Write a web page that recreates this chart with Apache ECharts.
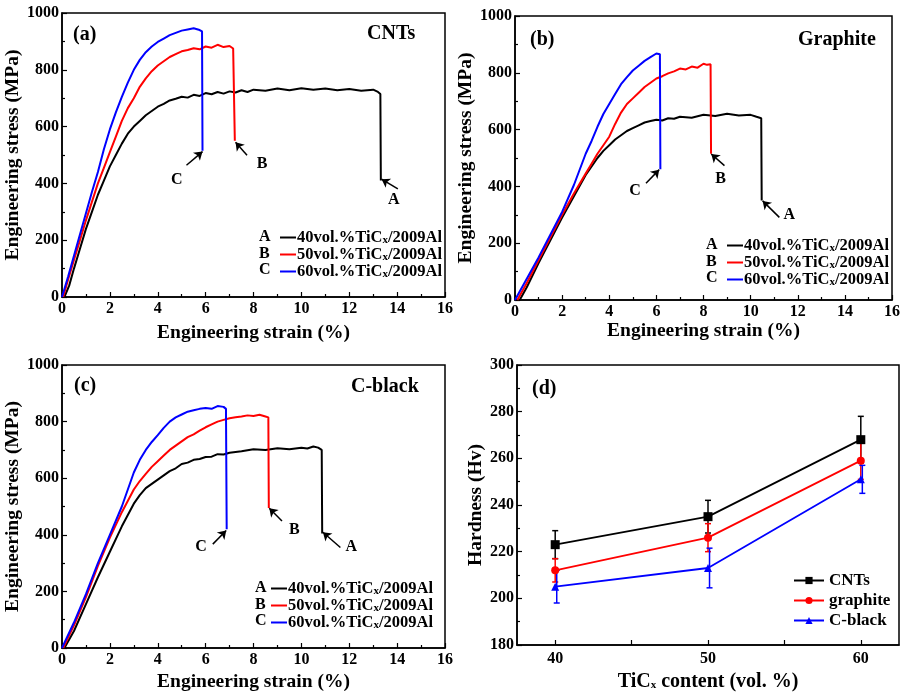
<!DOCTYPE html>
<html>
<head>
<meta charset="utf-8">
<script src="https://cdn.jsdelivr.net/npm/echarts@6/dist/echarts.min.js"></script>
<style>
  html, body { margin: 0; padding: 0; background: #fff; }
  #chart { width: 903px; height: 693px; }
</style>
</head>
<body>
<div id="chart"></div>
<script>
// stress-strain curves, [strain %, stress MPa]
const cntA = [[0.1,0],[0.3,40],[0.5,100],[0.75,170],[1,240],[1.25,300],[1.5,360],[1.75,410],[2,460],[2.25,500],[2.5,540],[2.75,575],[3,600],[3.25,620],[3.5,640],[3.75,655],[4,670],[4.25,680],[4.5,692],[4.75,698],[5,705],[5.25,702],[5.5,712],[5.75,708],[6,718],[6.25,714],[6.5,722],[6.75,716],[7,724],[7.25,720],[7.5,728],[7.75,722],[8,730],[8.5,726],[9,734],[9.5,728],[10,735],[10.5,730],[11,734],[11.5,728],[12,732],[12.5,726],[13,730],[13.2,722],[13.3,715],[13.32,410]];
const cntB = [[0.05,0],[0.25,60],[0.5,130],[0.75,200],[1,270],[1.25,335],[1.5,400],[1.75,455],[2,510],[2.25,565],[2.5,620],[2.75,665],[3,700],[3.25,740],[3.5,770],[3.75,795],[4,815],[4.25,830],[4.5,845],[4.75,855],[5,865],[5.25,870],[5.5,876],[5.75,872],[6,882],[6.25,878],[6.5,888],[6.75,880],[7,884],[7.15,875],[7.2,870],[7.22,550]];
const cntC = [[0,0],[0.25,70],[0.5,145],[0.75,220],[1,295],[1.25,370],[1.5,440],[1.75,520],[2,590],[2.25,650],[2.5,705],[2.75,755],[3,800],[3.25,835],[3.5,862],[3.75,882],[4,898],[4.25,910],[4.5,922],[4.75,930],[5,938],[5.25,942],[5.5,946],[5.75,940],[5.85,935],[5.87,515]];

const grA = [[0.2,0],[0.5,45],[1,130],[1.5,210],[2,290],[2.5,365],[3,440],[3.25,470],[3.5,500],[3.75,525],[4,545],[4.25,565],[4.5,580],[4.75,595],[5,605],[5.25,615],[5.5,625],[5.75,630],[6,635],[6.25,632],[6.5,640],[6.75,638],[7,645],[7.5,642],[8,652],[8.5,648],[9,656],[9.5,650],[10,652],[10.25,645],[10.45,640],[10.47,350]];
const grB = [[0.1,0],[0.5,60],[1,140],[1.5,220],[2,300],[2.5,375],[3,445],[3.25,480],[3.5,515],[3.75,545],[4,575],[4.25,620],[4.5,660],[4.75,690],[5,710],[5.25,730],[5.5,750],[5.75,765],[6,780],[6.25,788],[6.5,798],[6.75,805],[7,815],[7.25,812],[7.5,822],[7.75,818],[8,832],[8.15,828],[8.3,830],[8.32,515]];
const grC = [[0,0],[0.5,75],[1,150],[1.5,230],[2,310],[2.5,405],[3,515],[3.25,560],[3.5,610],[3.75,655],[4,690],[4.25,725],[4.5,760],[4.75,785],[5,808],[5.25,825],[5.5,842],[5.75,855],[6,868],[6.15,865],[6.17,460]];

const cbA = [[0.1,0],[0.5,60],[1,155],[1.5,250],[2,340],[2.5,430],[3,510],[3.25,540],[3.5,565],[3.75,580],[4,595],[4.25,610],[4.5,625],[4.75,635],[5,650],[5.25,655],[5.5,665],[5.75,668],[6,675],[6.25,676],[6.5,685],[6.75,684],[7,690],[7.5,695],[8,702],[8.5,700],[9,706],[9.5,702],[10,708],[10.25,705],[10.5,712],[10.7,708],[10.85,700],[10.87,405]];
const cbB = [[0.05,0],[0.5,80],[1,180],[1.5,290],[2,390],[2.5,480],[3,560],[3.25,590],[3.5,615],[3.75,640],[4,660],[4.25,680],[4.5,700],[4.75,715],[5,730],[5.25,745],[5.5,755],[5.75,768],[6,780],[6.25,790],[6.5,800],[6.75,806],[7,812],[7.25,815],[7.5,818],[7.75,822],[8,820],[8.25,824],[8.5,818],[8.62,815],[8.64,495]];
const cbC = [[0,0],[0.5,90],[1,190],[1.5,300],[2,400],[2.5,500],[2.75,560],[3,620],[3.25,665],[3.5,700],[3.75,728],[4,752],[4.25,778],[4.5,800],[4.75,815],[5,825],[5.25,835],[5.5,840],[5.75,845],[6,848],[6.25,845],[6.5,855],[6.75,852],[6.85,845],[6.88,420]];

// hardness vs TiCx content
const volContent = [40, 50, 60];
const hvCNTs = [223, 235, 268];
const errCNTs = [6, 7, 10];
const hvGraphite = [212, 226, 259];
const errGraphite = [5, 6, 8];
const hvCblack = [205, 213, 251];
const errCblack = [7, 8.5, 6];

const names = ['40vol.%TiCx/2009Al', '50vol.%TiCx/2009Al', '60vol.%TiCx/2009Al'];

// fracture arrows: [tail, tip, letter position]
const arrCNTs = [[[14.03,381],[13.35,415],[13.86,343]], [[7.73,499],[7.25,545],[8.36,470]], [[5.2,464],[5.87,512],[4.8,411]]];
const arrGraphite = [[[11.22,291],[10.51,349],[11.64,299]], [[8.89,473],[8.33,514],[8.72,426]], [[5.56,411],[6.12,459],[5.09,385]]];
const arrCblack = [[[11.63,355],[10.9,409],[12.08,356]], [[9.19,449],[8.66,494],[9.71,417]], [[6.3,367],[6.86,415],[5.81,356]]];

const FONT = '"Liberation Serif","Times New Roman",serif';
const colors = ['#000000', '#ff0000', '#0000ff'];
const letters = ['A', 'B', 'C'];

var myChart = echarts.init(document.getElementById('chart'));

function boldText(size) {
  return { color: '#000', fontFamily: FONT, fontWeight: 'bold', fontSize: size };
}

const subRich = { sub: { fontFamily: FONT, fontWeight: 'bold', fontSize: 11, lineHeight: 10, color: '#000', padding: [6, 0, 0, 0] } };

function strainX(gi, gap) {
  return {
    type: 'value', gridIndex: gi, min: 0, max: 16, interval: 2,
    name: 'Engineering strain (%)', nameLocation: 'middle', nameGap: gap,
    nameTextStyle: boldText(19.5),
    axisLine: { lineStyle: { color: '#000', width: 1.5 } },
    axisTick: { inside: true, length: 5, lineStyle: { color: '#000', width: 1.2 } },
    minorTick: { show: true, splitNumber: 2, length: 3, lineStyle: { color: '#000', width: 1.2 } },
    axisLabel: Object.assign(boldText(16), { margin: 4 }),
    splitLine: { show: false }
  };
}

function stressY(gi, gap) {
  return {
    type: 'value', gridIndex: gi, min: 0, max: 1000, interval: 200,
    name: 'Engineering stress (MPa)', nameLocation: 'middle', nameGap: gap,
    nameTextStyle: boldText(19.5),
    axisLine: { lineStyle: { color: '#000', width: 1.5 } },
    axisTick: { inside: true, length: 5, lineStyle: { color: '#000', width: 1.2 } },
    minorTick: { show: true, splitNumber: 2, length: 3, lineStyle: { color: '#000', width: 1.2 } },
    axisLabel: Object.assign(boldText(16), { margin: 3, formatter: v => String(v) }),
    splitLine: { show: false }
  };
}

function curve(i, gi, data, arr) {
  return {
    name: names[i], type: 'line', xAxisIndex: gi, yAxisIndex: gi,
    data: data, symbol: 'none', showSymbol: false,
    lineStyle: { color: colors[i], width: 2 }, itemStyle: { color: colors[i] },
    markLine: {
      silent: true, symbol: ['none', 'arrow'], symbolSize: 8, animation: false,
      lineStyle: { color: '#000', width: 1.5, type: 'solid' },
      label: { show: false },
      data: [[{ coord: arr[0] }, { coord: arr[1] }]]
    },
    markPoint: {
      silent: true, symbol: 'circle', symbolSize: 1, animation: false,
      itemStyle: { color: 'rgba(0,0,0,0)' },
      label: Object.assign(boldText(16), { show: true, position: 'inside', formatter: '{b}' }),
      data: [{ name: letters[i], coord: arr[2] }]
    }
  };
}

function errBars(gi, xs, ys, errs, color, shift) {
  return {
    type: 'custom', xAxisIndex: gi, yAxisIndex: gi, silent: true, z: 1,
    data: xs.map((x, k) => [x + shift, ys[k] - errs[k], ys[k] + errs[k]]),
    renderItem: function (params, api) {
      var lo = api.coord([api.value(0), api.value(1)]);
      var hi = api.coord([api.value(0), api.value(2)]);
      var w = 3;
      var st = { stroke: color, lineWidth: 1.5 };
      return {
        type: 'group', children: [
          { type: 'line', shape: { x1: lo[0], y1: lo[1], x2: hi[0], y2: hi[1] }, style: st },
          { type: 'line', shape: { x1: lo[0] - w, y1: lo[1], x2: lo[0] + w, y2: lo[1] }, style: st },
          { type: 'line', shape: { x1: hi[0] - w, y1: hi[1], x2: hi[0] + w, y2: hi[1] }, style: st }
        ]
      };
    }
  };
}

function hvLine(name, gi, ys, color, symbol, size) {
  return {
    name: name, type: 'line', xAxisIndex: gi, yAxisIndex: gi, z: 3,
    data: volContent.map((x, k) => [x, ys[k]]),
    symbol: symbol, symbolSize: size, showSymbol: true,
    lineStyle: { color: color, width: 1.8 }, itemStyle: { color: color }
  };
}

function stressLegend(left, top) {
  return {
    data: names.map(n => ({ name: n, icon: 'rect' })),
    orient: 'vertical', left: left, top: top, padding: 0,
    itemWidth: 16, itemHeight: 2, itemGap: 0, selectedMode: false,
    textStyle: Object.assign(boldText(16.5), {
      lineHeight: 16.5, padding: [0, 0, 0, -4], rich: subRich
    }),
    formatter: function (n) { return n.replace('TiCx', 'TiC{sub|x}'); }
  };
}

function legendLetters(x, y0, pitch) {
  return letters.map((l, k) => ({
    type: 'text', left: x, top: y0 + k * pitch,
    style: { text: l, fill: '#000', font: 'bold 16px ' + FONT }
  }));
}

function label(text, left, top) {
  return { text: text, left: left, top: top, padding: 0, textStyle: boldText(20) };
}

const frame = { show: true, borderColor: '#000', borderWidth: 1.5, backgroundColor: 'transparent' };

myChart.setOption({
  animation: false,
  backgroundColor: '#fff',
  title: [
    label('(a)', 73, 25), label('CNTs', 367, 24),
    label('(b)', 530, 30), label('Graphite', 798, 30),
    label('(c)', 74, 376), label('C-black', 351, 377),
    label('(d)', 532, 379)
  ],
  grid: [
    Object.assign({ left: 62, top: 13, width: 383, height: 284 }, frame),
    Object.assign({ left: 515, top: 16, width: 383, height: 284 }, frame),
    Object.assign({ left: 62, top: 365, width: 383, height: 283 }, frame),
    Object.assign({ left: 517, top: 365, width: 382, height: 284 }, frame)
  ],
  xAxis: [
    strainX(0, 26), strainX(1, 21), strainX(2, 24),
    {
      type: 'value', gridIndex: 3, min: 37.5, max: 62.5,
      name: 'TiC{sub|x} content (vol. %)', nameLocation: 'middle', nameGap: 27,
      nameTextStyle: Object.assign(boldText(20), { rich: subRich }),
      axisLine: { lineStyle: { color: '#000', width: 1.5 } },
      axisTick: { inside: true, length: 5, customValues: [40, 45, 50, 55, 60], lineStyle: { color: '#000', width: 1.2 } },
      axisLabel: Object.assign(boldText(16), { margin: 6, customValues: volContent }),
      splitLine: { show: false }
    }
  ],
  yAxis: [
    stressY(0, 35), stressY(1, 34), stressY(2, 35),
    {
      type: 'value', gridIndex: 3, min: 180, max: 300, interval: 20,
      name: 'Hardness (Hv)', nameLocation: 'middle', nameGap: 31,
      nameTextStyle: boldText(19.5),
      axisLine: { lineStyle: { color: '#000', width: 1.5 } },
      axisTick: { inside: true, length: 5, lineStyle: { color: '#000', width: 1.2 } },
      minorTick: { show: true, splitNumber: 2, length: 3, lineStyle: { color: '#000', width: 1.2 } },
      axisLabel: Object.assign(boldText(16), { margin: 3 }),
      splitLine: { show: false }
    }
  ],
  legend: [
    stressLegend(280, 229),
    stressLegend(727, 237),
    stressLegend(271, 580),
    {
      data: ['CNTs', 'graphite', 'C-black'], orient: 'vertical', left: 793, top: 572, padding: 0,
      itemWidth: 30, itemHeight: 9, itemGap: 3, selectedMode: false,
      textStyle: Object.assign(boldText(17), { lineHeight: 17 })
    }
  ],
  graphic: [].concat(
    legendLetters(259, 229, 16.5),
    legendLetters(706, 237, 16.5),
    legendLetters(255, 580, 16.5)
  ),
  series: [
    curve(0, 0, cntA, arrCNTs[0]), curve(1, 0, cntB, arrCNTs[1]), curve(2, 0, cntC, arrCNTs[2]),
    curve(0, 1, grA, arrGraphite[0]), curve(1, 1, grB, arrGraphite[1]), curve(2, 1, grC, arrGraphite[2]),
    curve(0, 2, cbA, arrCblack[0]), curve(1, 2, cbB, arrCblack[1]), curve(2, 2, cbC, arrCblack[2]),
    errBars(3, volContent, hvCNTs, errCNTs, '#000', 0),
    errBars(3, volContent, hvGraphite, errGraphite, '#ff0000', 0),
    errBars(3, volContent, hvCblack, errCblack, '#0000ff', 0.1),
    hvLine('CNTs', 3, hvCNTs, '#000', 'rect', 9),
    hvLine('graphite', 3, hvGraphite, '#ff0000', 'circle', 8),
    hvLine('C-black', 3, hvCblack, '#0000ff', 'triangle', 8)
  ]
});

window.addEventListener('resize', () => {
  if (myChart) {
    myChart.resize();
  }
});
</script>
</body>
</html>
